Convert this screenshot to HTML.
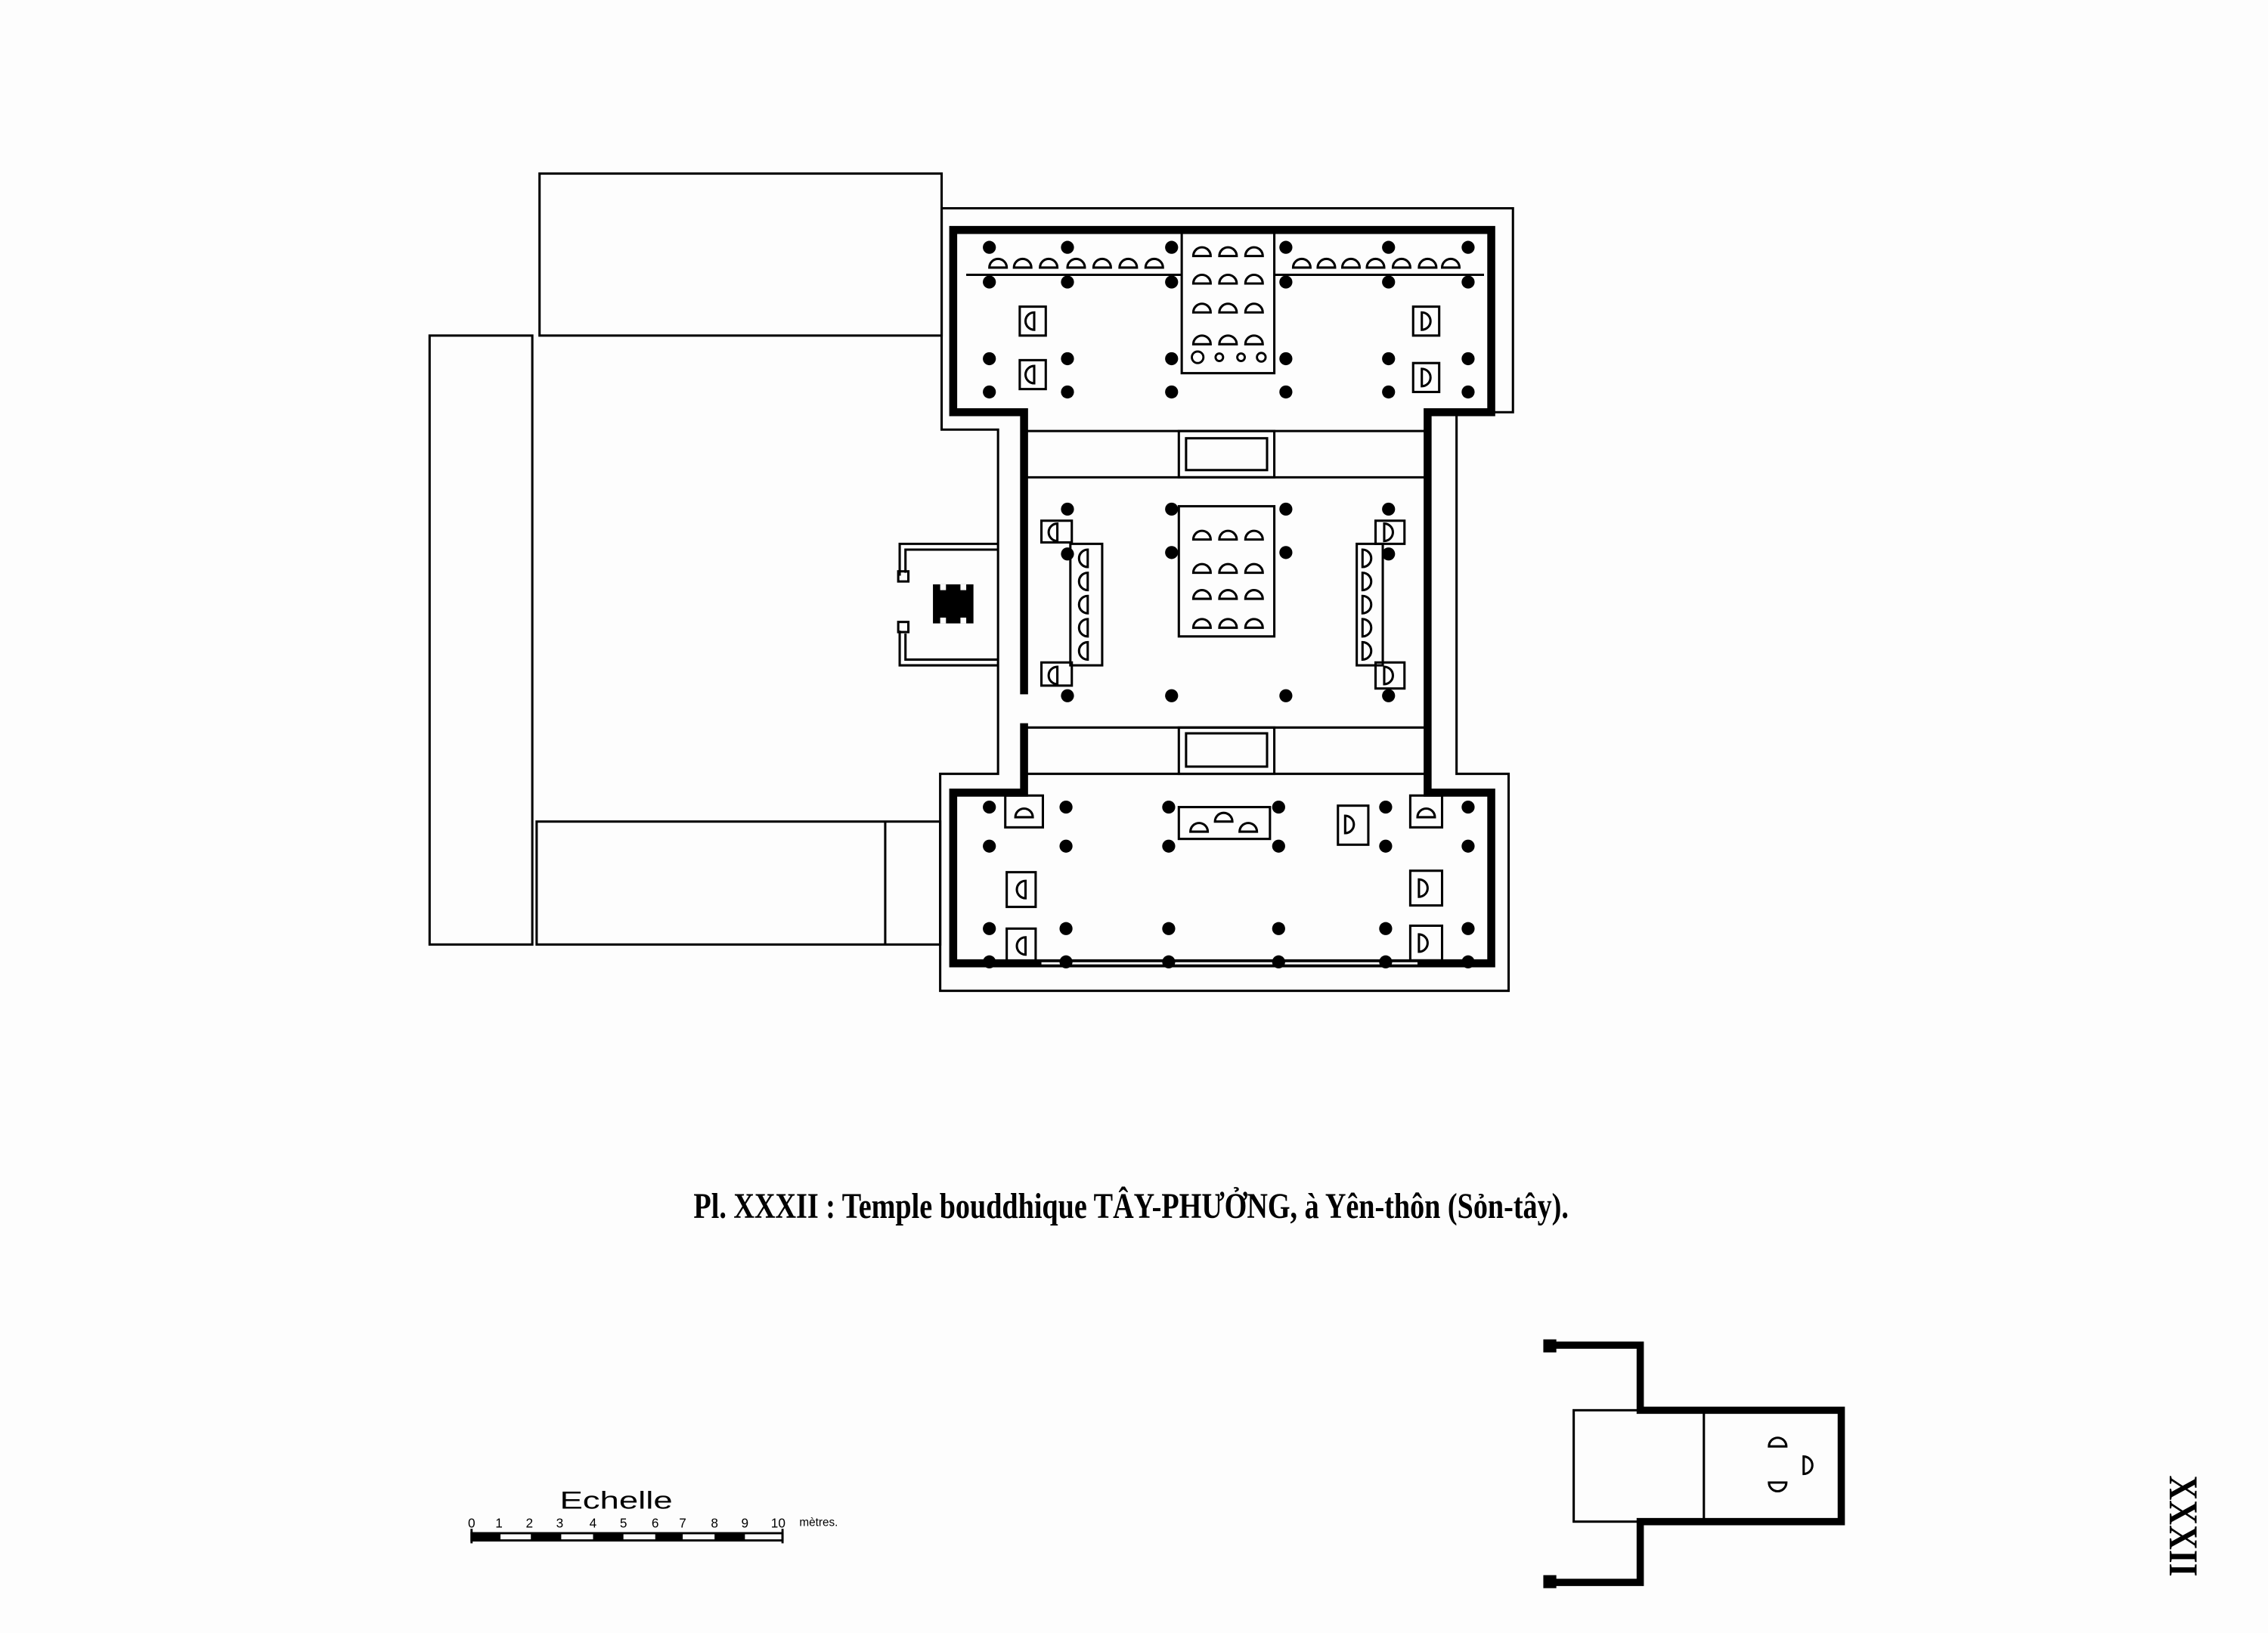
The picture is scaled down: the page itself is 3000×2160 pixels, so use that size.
<!DOCTYPE html>
<html><head><meta charset="utf-8"><style>
html,body{margin:0;padding:0;background:#fff;}
svg{display:block;}
</style></head><body>
<svg width="3000" height="2160" viewBox="0 0 1568 1129" xmlns="http://www.w3.org/2000/svg">
<rect width="1568" height="1129" fill="#fdfdfd"/>
<defs>
<g id="dome"><path d="M-6,3 A6,6 0 0 1 6,3 Z" fill="#fff" stroke="#000" stroke-width="1.6"/></g>
<g id="dR"><path d="M-3,-6 A6,6 0 0 1 -3,6 Z" fill="#fff" stroke="#000" stroke-width="1.6"/></g>
<g id="dL"><path d="M3,-6 A6,6 0 0 0 3,6 Z" fill="#fff" stroke="#000" stroke-width="1.6"/></g>
</defs>
<g fill="none" stroke="#000" stroke-width="1.6">
<!-- left building -->
<rect x="373" y="120" width="278" height="112"/>
<rect x="297" y="232" width="71" height="421"/>
<rect x="371" y="568" width="279" height="85"/>
<line x1="612" y1="568" x2="612" y2="653"/>
<!-- plinth -->
<path d="M651,144 H1046 V285 H1007 V535 H1043 V685 H650 V535 H690 V297 H651 Z"/>
<!-- left small structure -->
<path d="M690,376 H622 V398 M690,380 H626 V396"/>
<path d="M690,460 H622 V436 M690,456 H626 V438"/>
<rect x="621" y="395" width="7" height="7"/>
<rect x="621" y="430" width="7" height="7"/>
<!-- top hall interior -->
<line x1="668" y1="190" x2="817" y2="190"/>
<line x1="881" y1="190" x2="1026" y2="190"/>
<rect x="817" y="161" width="64" height="97"/>
<!-- corridors -->
<line x1="710" y1="298" x2="985" y2="298"/>
<line x1="710" y1="330" x2="985" y2="330"/>
<rect x="815" y="298" width="66" height="32"/>
<rect x="820" y="303" width="56" height="22"/>
<line x1="710" y1="503" x2="985" y2="503"/>
<line x1="710" y1="535" x2="985" y2="535"/>
<rect x="815" y="503" width="66" height="32"/>
<rect x="820" y="507" width="56" height="23"/>
<!-- middle altars -->
<rect x="815" y="350" width="66" height="90"/>
<rect x="740" y="376" width="22" height="84"/>
<rect x="720" y="360" width="21" height="15"/>
<rect x="720" y="458" width="21" height="16"/>
<rect x="938" y="376" width="18" height="84"/>
<rect x="951" y="360" width="20" height="16"/>
<rect x="951" y="458" width="20" height="18"/>
<!-- top hall altar boxes -->
<rect x="705" y="212" width="18" height="20"/>
<rect x="705" y="249" width="18" height="20"/>
<rect x="977" y="212" width="18" height="20"/>
<rect x="977" y="251" width="18" height="20"/>
<!-- bottom hall boxes -->
<rect x="695" y="550" width="26" height="22"/>
<rect x="696" y="603" width="20" height="24"/>
<rect x="696" y="642" width="20" height="24"/>
<rect x="975" y="550" width="22" height="22"/>
<rect x="975" y="602" width="22" height="24"/>
<rect x="975" y="640" width="22" height="24"/>
<rect x="925" y="557" width="21" height="27"/>
<rect x="815" y="558" width="63" height="22"/>
<!-- small diagram inner -->
<rect x="1088" y="975" width="185" height="77"/>
<line x1="1178" y1="975" x2="1178" y2="1052"/>
</g>
<!-- thick walls -->
<g fill="none" stroke="#000" stroke-width="5.5" stroke-linejoin="miter">
<path d="M708,480 V285 H659 V159 H1031 V285 H987 V548 H1031 V666 H659 V548 H708 V500"/>
<path d="M1070,930 H1134 V975 H1273 V1052 H1134 V1094 H1070" stroke-width="5"/>
</g>
<rect x="1067" y="926" width="9" height="9" fill="#000"/>
<rect x="1067" y="1089" width="9" height="9" fill="#000"/>
<line x1="720" y1="666" x2="980" y2="666" stroke="#fff" stroke-width="1.5"/>
<!-- black square -->
<rect x="645" y="404" width="28" height="27" fill="#000"/>
<rect x="650" y="404" width="4" height="4" fill="#fff"/><rect x="664" y="404" width="4" height="4" fill="#fff"/>
<rect x="650" y="427" width="4" height="4" fill="#fff"/><rect x="664" y="427" width="4" height="4" fill="#fff"/>
<!-- columns -->
<g fill="#000">
<g id="r1"><circle cx="684" cy="171" r="4.5"/><circle cx="738" cy="171" r="4.5"/><circle cx="810" cy="171" r="4.5"/><circle cx="889" cy="171" r="4.5"/><circle cx="960" cy="171" r="4.5"/><circle cx="1015" cy="171" r="4.5"/></g>
<use href="#r1" y="24"/><use href="#r1" y="77"/><use href="#r1" y="100"/>
<circle cx="738" cy="352" r="4.5"/><circle cx="810" cy="352" r="4.5"/><circle cx="889" cy="352" r="4.5"/><circle cx="960" cy="352" r="4.5"/>
<circle cx="738" cy="383" r="4.5"/><circle cx="810" cy="382" r="4.5"/><circle cx="889" cy="382" r="4.5"/><circle cx="960" cy="383" r="4.5"/>
<circle cx="738" cy="481" r="4.5"/><circle cx="810" cy="481" r="4.5"/><circle cx="889" cy="481" r="4.5"/><circle cx="960" cy="481" r="4.5"/>
<g id="r2"><circle cx="684" cy="558" r="4.5"/><circle cx="737" cy="558" r="4.5"/><circle cx="808" cy="558" r="4.5"/><circle cx="884" cy="558" r="4.5"/><circle cx="958" cy="558" r="4.5"/><circle cx="1015" cy="558" r="4.5"/></g>
<use href="#r2" y="27"/><use href="#r2" y="84"/><use href="#r2" y="107"/>
</g>
<!-- statues -->
<g>
<use href="#dome" x="690" y="182"/><use href="#dome" x="707" y="182"/><use href="#dome" x="725" y="182"/><use href="#dome" x="744" y="182"/><use href="#dome" x="762" y="182"/><use href="#dome" x="780" y="182"/><use href="#dome" x="798" y="182"/>
<use href="#dome" x="900" y="182"/><use href="#dome" x="917" y="182"/><use href="#dome" x="934" y="182"/><use href="#dome" x="951" y="182"/><use href="#dome" x="969" y="182"/><use href="#dome" x="987" y="182"/><use href="#dome" x="1003" y="182"/>
<g id="c3"><use href="#dome" x="831" y="174"/><use href="#dome" x="849" y="174"/><use href="#dome" x="867" y="174"/></g>
<use href="#c3" y="19"/><use href="#c3" y="39"/><use href="#c3" y="61"/>
<g fill="#fff" stroke="#000" stroke-width="1.5"><circle cx="828" cy="247" r="4"/><circle cx="843" cy="247" r="2.6"/><circle cx="858" cy="247" r="2.6"/><circle cx="872" cy="247" r="3"/></g>
<use href="#c3" y="196"/><use href="#c3" y="219"/><use href="#c3" y="237"/><use href="#c3" y="257"/>
<use href="#dL" x="712" y="222"/><use href="#dL" x="712" y="259"/>
<use href="#dR" x="986" y="222"/><use href="#dR" x="986" y="261"/>
<use href="#dL" x="728" y="368"/><use href="#dL" x="728" y="467"/>
<use href="#dL" x="749" y="386"/><use href="#dL" x="749" y="402"/><use href="#dL" x="749" y="418"/><use href="#dL" x="749" y="434"/><use href="#dL" x="749" y="450"/>
<use href="#dR" x="960" y="368"/><use href="#dR" x="960" y="467"/>
<use href="#dR" x="945" y="386"/><use href="#dR" x="945" y="402"/><use href="#dR" x="945" y="418"/><use href="#dR" x="945" y="434"/><use href="#dR" x="945" y="450"/>
<use href="#dome" x="708" y="562"/><use href="#dome" x="986" y="562"/>
<use href="#dL" x="706" y="615"/><use href="#dL" x="706" y="654"/>
<use href="#dR" x="984" y="614"/><use href="#dR" x="984" y="652"/>
<use href="#dR" x="933" y="570"/>
<use href="#dome" x="829" y="572"/><use href="#dome" x="846" y="565"/><use href="#dome" x="863" y="572"/>
<use href="#dome" x="1229" y="997"/><use href="#dR" x="1250" y="1013"/><use href="#dome" x="1229" y="1034" transform="rotate(180 1229 1031)"/>
</g>
<!-- title -->
<text x="782" y="842" text-anchor="middle" font-family="'Liberation Serif',serif" font-weight="bold" font-size="25" textLength="605" lengthAdjust="spacingAndGlyphs">Pl. XXXII : Temple bouddhique TÂY-PHƯỞNG, à Yên-thôn (Sỏn-tây).</text>
<!-- roman numeral -->
<text transform="translate(1500,1055) rotate(90)" text-anchor="middle" font-family="'Liberation Serif',serif" font-weight="bold" font-size="28" textLength="70" lengthAdjust="spacingAndGlyphs">XXXII</text>
<!-- scale -->
<text x="426" y="1043" text-anchor="middle" font-family="'Liberation Sans',sans-serif" font-size="17" textLength="78" lengthAdjust="spacingAndGlyphs">Echelle</text>
<g font-family="'Liberation Sans',sans-serif" font-size="9" text-anchor="middle">
<text x="326" y="1056">0</text><text x="345" y="1056">1</text><text x="366" y="1056">2</text><text x="387" y="1056">3</text><text x="410" y="1056">4</text><text x="431" y="1056">5</text><text x="453" y="1056">6</text><text x="472" y="1056">7</text><text x="494" y="1056">8</text><text x="515" y="1056">9</text><text x="538" y="1056">10</text>
<text x="566" y="1055" font-size="8">mètres.</text>
</g>
<g stroke="#000" stroke-width="1.5" fill="none">
<rect x="326" y="1060" width="215" height="5"/>
<line x1="326" y1="1057" x2="326" y2="1067"/><line x1="541" y1="1057" x2="541" y2="1067"/>
</g>
<g fill="#000">
<rect x="326" y="1060" width="20" height="5"/><rect x="367" y="1060" width="21" height="5"/><rect x="410" y="1060" width="21" height="5"/><rect x="453" y="1060" width="19" height="5"/><rect x="494" y="1060" width="21" height="5"/>
</g>
</svg>
</body></html>
